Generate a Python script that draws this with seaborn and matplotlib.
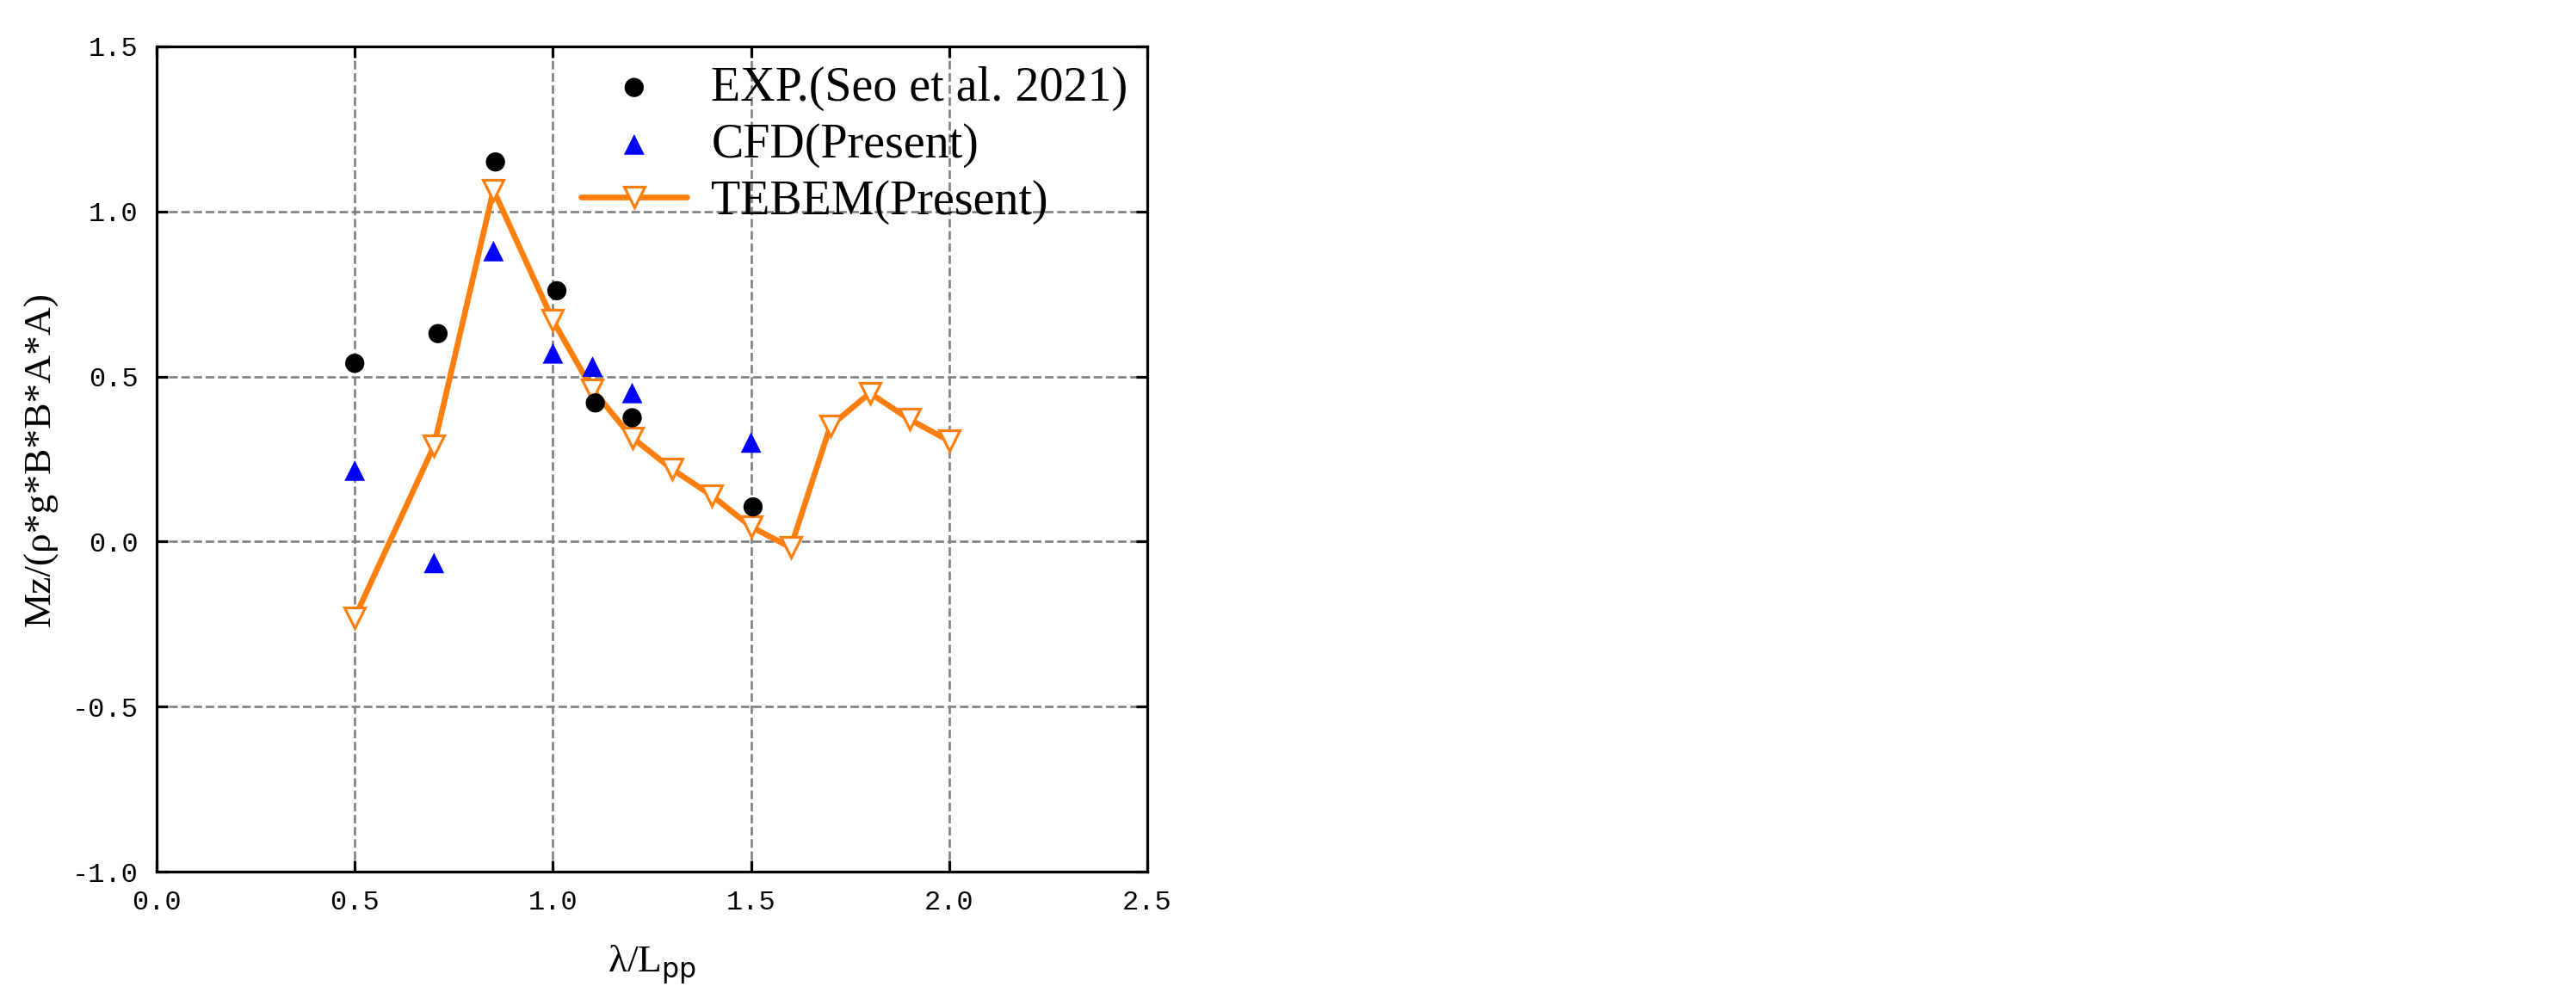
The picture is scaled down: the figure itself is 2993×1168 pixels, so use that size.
import numpy as np
import pandas as pd
import seaborn as sns
import matplotlib.pyplot as plt

# data
exp_x = [0.50, 0.71, 0.855, 1.01, 1.107, 1.20, 1.505]
exp_y = [0.54, 0.63, 1.15, 0.76, 0.42, 0.375, 0.105]
cfd_x = [0.50, 0.70, 0.85, 1.00, 1.10, 1.20, 1.50]
cfd_y = [0.215, -0.065, 0.88, 0.57, 0.53, 0.45, 0.30]
tebem_x = [0.5, 0.7, 0.85, 1.0, 1.1, 1.2, 1.3, 1.4, 1.5, 1.6, 1.7, 1.8, 1.9, 2.0]
tebem_y = [-0.23, 0.29, 1.065, 0.67, 0.46, 0.315, 0.22, 0.14, 0.045, -0.018,
           0.35, 0.45, 0.37, 0.305]

sns.set_theme(style="white")
plt.rcParams['font.family'] = ['Liberation Serif', 'DejaVu Serif']
plt.rcParams['text.color'] = 'black'
plt.rcParams['axes.labelcolor'] = 'black'

fig = plt.figure(figsize=(2993 / 192, 1168 / 192), dpi=192)
ax = fig.add_axes([0.0608, 0.1327, 0.3846, 0.8211])

sns.lineplot(x=tebem_x, y=tebem_y, ax=ax, color='#ff7f0e', lw=2.5, marker='v',
             markersize=9, markerfacecolor='white', markeredgecolor='#ff7f0e',
             markeredgewidth=1.2, label='TEBEM(Present)', zorder=3)
sns.scatterplot(x=exp_x, y=exp_y, ax=ax, color='black', s=70, marker='o',
                edgecolor='none', label='EXP.(Seo et al. 2021)', zorder=4)
sns.scatterplot(x=cfd_x, y=cfd_y, ax=ax, color='blue', s=80, marker='^',
                edgecolor='none', label='CFD(Present)', zorder=4)

ax.set_xlim(0, 2.5)
ax.set_ylim(-1.0, 1.5)
ax.set_xticks(np.arange(0, 2.51, 0.5))
ax.set_yticks(np.arange(-1.0, 1.51, 0.5))
ax.set_xticklabels([f'{v:.1f}' for v in np.arange(0, 2.51, 0.5)])
ax.set_yticklabels([f'{v:.1f}' for v in np.arange(-1.0, 1.51, 0.5)])
for lab in ax.get_xticklabels() + ax.get_yticklabels():
    lab.set_family(['Liberation Mono', 'DejaVu Sans Mono'])
    lab.set_fontsize(12)
ax.tick_params(direction='in', length=5, width=1.2, top=True, right=True,
               bottom=True, left=True, colors='black', pad=8)
ax.grid(True, linestyle='--', color='gray', lw=1.0)
for s in ax.spines.values():
    s.set_color('black')
    s.set_linewidth(1.2)

ax.set_xlabel('λ/L$_{\\mathrm{pp}}$', fontsize=17, labelpad=12)
ax.set_ylabel('Mz/(ρ*g*B*B*A*A)', fontsize=17, labelpad=6)

h, l = ax.get_legend_handles_labels()
order = [l.index('EXP.(Seo et al. 2021)'), l.index('CFD(Present)'), l.index('TEBEM(Present)')]
ax.legend([h[i] for i in order], [l[i] for i in order], loc='upper right',
          frameon=False, fontsize=21, borderaxespad=0.0, handlelength=2.2,
          labelspacing=0.25, handletextpad=0.5)

fig.savefig('out.png', dpi=192)
